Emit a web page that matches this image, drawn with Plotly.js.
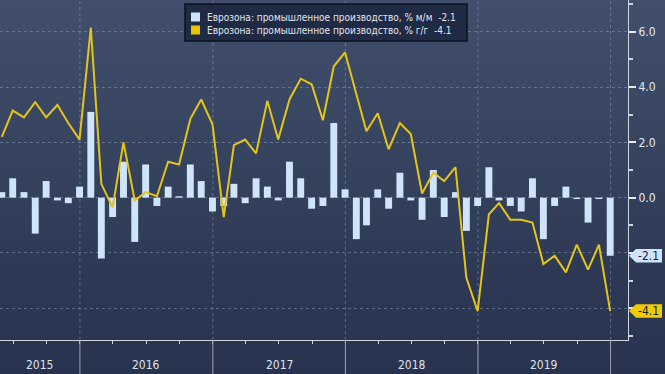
<!DOCTYPE html>
<html>
<head>
<meta charset="utf-8">
<script src="https://cdn.plot.ly/plotly-3.0.1.min.js"></script>
<style>
html,body{margin:0;padding:0;background:#28334f;}
#chart{width:665px;height:374px;background:linear-gradient(180deg,#414f6d 0%,#37445f 40%,#2d3955 72%,#28334f 100%);}
</style>
</head>
<body>
<div id="chart"></div>
<script>
// ---- data ----
const months = [
 '2015-05','2015-06','2015-07','2015-08','2015-09','2015-10','2015-11','2015-12',
 '2016-01','2016-02','2016-03','2016-04','2016-05','2016-06','2016-07','2016-08','2016-09','2016-10','2016-11','2016-12',
 '2017-01','2017-02','2017-03','2017-04','2017-05','2017-06','2017-07','2017-08','2017-09','2017-10','2017-11','2017-12',
 '2018-01','2018-02','2018-03','2018-04','2018-05','2018-06','2018-07','2018-08','2018-09','2018-10','2018-11','2018-12',
 '2019-01','2019-02','2019-03','2019-04','2019-05','2019-06','2019-07','2019-08','2019-09','2019-10','2019-11','2019-12'
];
const momValues = [
 0.2, 0.7, 0.2, -1.3, 0.6, -0.1, -0.2, 0.4,
 3.1, -2.2, -0.7, 1.3, -1.6, 1.2, -0.3, 0.4, 0.05, 1.2, 0.6, -0.5,
 -0.3, 0.5, -0.2, 0.7, 0.4, -0.1, 1.3, 0.7, -0.4, -0.3, 2.7, 0.3,
 -1.5, -1.0, 0.3, -0.4, 0.9, -0.1, -0.8, 1.0, -0.7, 0.2, -1.2, -0.3,
 1.1, -0.1, -0.3, -0.5, 0.7, -1.5, -0.3, 0.4, -0.05, -0.9, -0.05, -2.1
];
const yoyValues = [
 2.2, 3.15, 2.9, 3.45, 2.9, 3.35, 2.7, 2.1,
 6.15, 0.5, -0.35, 2.0, -0.1, 0.2, 0.05, 1.3, 1.2, 2.85, 3.55, 2.65,
 -0.7, 1.9, 2.1, 1.6, 3.5, 2.1, 3.55, 4.3, 4.1, 2.8, 4.75, 5.25,
 3.75, 2.4, 3.05, 1.75, 2.7, 2.3, 0.15, 0.9, 0.6, 1.1, -2.9, -4.1,
 -0.6, -0.2, -0.8, -0.8, -0.9, -2.4, -2.1, -2.7, -1.7, -2.6, -1.7, -4.1
];
const yearLabels = ['2015','2016','2017','2018','2019'];
const yTickVals = [-4, -2, 0, 2, 4, 6];
const yTickText = ['', '', '0.0', '2.0', '4.0', '6.0'];
const seriesNames = ['Еврозона: промышленное производство, % м/м', 'Еврозона: промышленное производство, % г/г'];

// ---- helpers ----
function monthEnd(s){const p=s.split('-').map(Number);return new Date(Date.UTC(p[0],p[1],0)).toISOString().slice(0,10);}
function dstr(ms){return new Date(ms).toISOString().slice(0,16).replace('T',' ');}
const dates = months.map(monthEnd);

const W=665,H=374,ML=0,MR=37,MT=0,MB=34;
const PW=W-ML-MR, PH=H-MT-MB;
const px=x=>(x-ML)/PW, py=y=>1-(y-MT)/PH;

const xRange=['2015-05-26','2020-02-18'];
const yRange=[-5.146,7.146];
const unitPx = PH/(yRange[1]-yRange[0]);

const FONT='DejaVu Sans Condensed, DejaVu Sans, sans-serif';
const BLUE='#cfe4f9', YEL='#e3c41c', TAGYEL='#f0cb05';
const GRID='rgba(150,168,196,0.45)';

// year midpoints (visible part of each year)
const r0=Date.parse(xRange[0]), r1=Date.parse(xRange[1]);
const annotations=[]; const shapes=[];
yearLabels.forEach(y=>{
  const a=Math.max(Date.UTC(+y,0,1),r0), b=Math.min(Date.UTC(+y+1,0,1),r1);
  annotations.push({x:dstr((a+b)/2),xref:'x',y:py(364.5),yref:'paper',text:y,showarrow:false,
    xanchor:'center',yanchor:'middle',font:{family:FONT,size:12,color:'#dfe3ea'}});
});
// year boundaries
yearLabels.forEach(y=>{
  const b=(+y+1)+'-01-01';
  shapes.push({type:'line',xref:'x',yref:'paper',x0:b,x1:b,y0:0,y1:1,line:{color:GRID,width:1,dash:'dot'},layer:'below'});
  shapes.push({type:'line',xref:'x',yref:'paper',x0:b,x1:b,y0:py(H),y1:0,line:{color:'#9aa3b4',width:1}});
});

// legend box
shapes.push({type:'rect',xref:'paper',yref:'paper',x0:px(185),x1:px(467),y0:py(4),y1:py(41),
  fillcolor:'#1f2a44',line:{color:'#0b111e',width:1.5},layer:'above'});
shapes.push({type:'rect',xref:'paper',yref:'paper',x0:px(191),x1:px(200),y0:py(12.5),y1:py(21.5),fillcolor:BLUE,line:{width:0}});
shapes.push({type:'rect',xref:'paper',yref:'paper',x0:px(191),x1:px(200),y0:py(25.5),y1:py(34.5),fillcolor:'#e8c400',line:{width:0}});
const lastMom=momValues[momValues.length-1], lastYoy=yoyValues[yoyValues.length-1];
[[seriesNames[0],lastMom,17],[seriesNames[1],lastYoy,30.3]].forEach(([n,v,yy])=>{
  annotations.push({xref:'paper',yref:'paper',x:px(205),y:py(yy),xanchor:'left',yanchor:'middle',showarrow:false,
    text:n+'\u00a0\u00a0'+v.toFixed(1),font:{family:FONT,size:10,color:'#e2e6ee'}});
});

// value tags on the right axis
function tag(v,color){
  const h=6.8/unitPx;
  const xt=px(629), xb=px(636), xr=px(662);
  shapes.push({type:'path',xref:'paper',yref:'y',
    path:`M ${xt} ${v} L ${xb} ${v+h} L ${xr} ${v+h} L ${xr} ${v-h} L ${xb} ${v-h} Z`,
    fillcolor:color,line:{width:0},layer:'above'});
  annotations.push({xref:'paper',yref:'y',x:px(648.5),y:v,text:v.toFixed(1),showarrow:false,xanchor:'center',yanchor:'middle',
    font:{family:FONT,size:12,color:'#18223a'}});
}
tag(lastMom,BLUE);
tag(lastYoy,TAGYEL);

const traces=[
 {type:'bar',x:dates,y:momValues,name:seriesNames[0],marker:{color:BLUE,line:{width:0}},width:19*864e5,showlegend:false,hoverinfo:'skip'},
 {type:'scatter',mode:'lines',x:dates,y:yoyValues,name:seriesNames[1],line:{color:YEL,width:2},showlegend:false,hoverinfo:'skip'}
];

const layout={
  width:W,height:H,margin:{l:ML,r:MR,t:MT,b:MB,pad:0},
  paper_bgcolor:'rgba(0,0,0,0)',plot_bgcolor:'rgba(0,0,0,0)',
  showlegend:false,
  xaxis:{type:'date',range:xRange,tickmode:'linear',tick0:'2015-01-01',dtick:'M3',ticks:'outside',ticklen:3,
    tickcolor:'#cfd5df',showticklabels:false,showgrid:false,zeroline:false,showline:true,linecolor:'#cfd5df',linewidth:1,fixedrange:true},
  yaxis:{side:'right',range:yRange,tickmode:'array',tickvals:yTickVals,ticktext:yTickText,ticks:'outside',ticklen:7,tickwidth:2,
    tickcolor:'#e8ecf2',showgrid:true,gridcolor:GRID,griddash:'dot',zeroline:false,showline:true,linecolor:'#cfd5df',linewidth:1,
    tickfont:{family:FONT,size:12,color:'#e6e9ef'},
    minor:{tickmode:'array',tickvals:[-5,-3,-1,1,3,5,7],ticks:'outside',ticklen:4,tickcolor:'#cfd5df',showgrid:false},fixedrange:true},
  shapes:shapes,annotations:annotations
};
Plotly.newPlot('chart',traces,layout,{displayModeBar:false,staticPlot:true});
</script>
</body>
</html>
